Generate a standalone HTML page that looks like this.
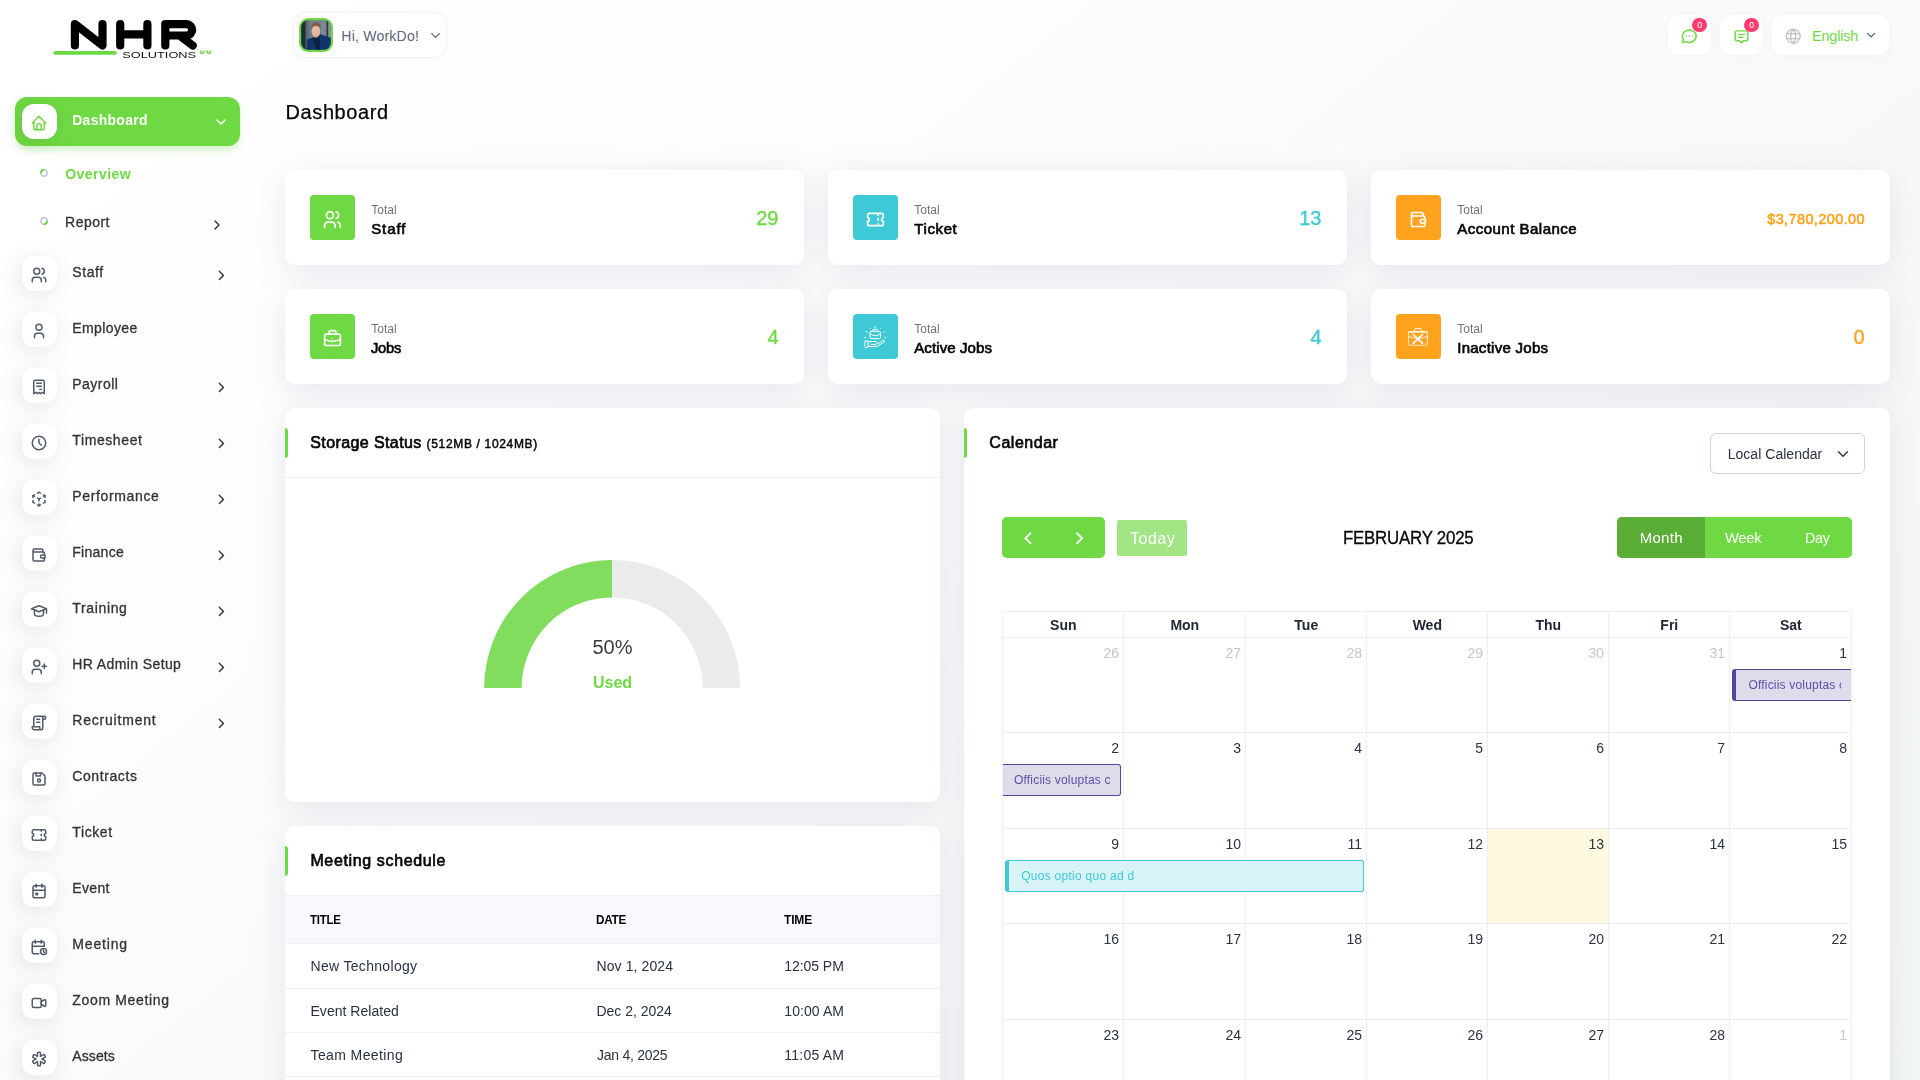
<!DOCTYPE html><html lang="en"><head><meta charset="utf-8"><title>Dashboard</title><style>
*{box-sizing:border-box;margin:0;padding:0}
html,body{width:1920px;height:1080px;overflow:hidden}
body{font-family:"Liberation Sans",sans-serif;position:relative;background:linear-gradient(141.55deg,rgba(240,244,243,0) 3.46%,#f0f4f3 99.86%) 0 0/1920px 1500px no-repeat,#fff;color:#293240}
div,span,svg,nav,header,main,section,table{position:absolute}
.t{white-space:nowrap;display:block}
.ic{overflow:visible}
.card{background:#fff;border-radius:10px;box-shadow:0 6px 30px rgba(182,186,203,.3)}
.mic{background:#fff;border-radius:12px;box-shadow:-3px 4px 23px rgba(0,0,0,.1)}
.hbtn{background:#fff;border-radius:12px;box-shadow:0 1px 5px rgba(182,186,203,.10)}
.bar{background:#6fd943;border-radius:0 3px 3px 0}
.hl{background:#f1f1f1;height:1px}
.gl{background:#efeff1}
</style></head><body>
<nav style="left:0;top:0;width:280px;height:1080px;will-change:transform">
<svg style="left:50px;top:14px" width="170" height="50" viewBox="50 14 170 50"><g fill="none" stroke="#000" stroke-width="8.2" stroke-linecap="round" stroke-linejoin="round"><path d="M74.900 45.500V24.100L102.500 45.500V24.100"/><path d="M120.200 24.100V45.500M147.400 24.100V45.500M120.200 34.400H147.400"/><path d="M165.300 45.500V24.200H186.500a5.650 5.650 0 0 1 0 11.300H165.300M181.500 37L192.700 45.500"/></g><rect x="53.400" y="51" width="63.500" height="3.800" rx="1.900" fill="#6fd943"/><text x="122.300" y="57.600" font-family="Liberation Sans" font-size="9" textLength="73.800" lengthAdjust="spacingAndGlyphs" fill="#111">SOLUTIONS</text><path d="M200.500 50.500v1.200a1.700 1.700 0 0 0 3.400 0v-1.200M207 50.500v1.200a1.700 1.700 0 0 0 3.400 0v-1.200" stroke="#6fd943" stroke-width="1.600" fill="none"/></svg>
<div style="left:15px;top:97px;width:225px;height:49px;background:#6fd943;border-radius:12px;box-shadow:0 5px 7px -1px rgba(111,217,67,.3)"></div>
<div class="mic" style="left:22px;top:104px;width:35px;height:35px;"></div>
<svg class="ic" style="left:30.20px;top:113.70px" width="18" height="18" viewBox="0 0 24 24" fill="none" stroke="#6fd943" stroke-width="2" stroke-linecap="round" stroke-linejoin="round"><path d="M5 12l-2 0l9 -9l9 9l-2 0"/><path d="M5 12v7a2 2 0 0 0 2 2h10a2 2 0 0 0 2 -2v-7"/><path d="M9 21v-6a2 2 0 0 1 2 -2h2a2 2 0 0 1 2 2v6"/></svg>
<span class="t" style="font-size:14px;line-height:14px;font-weight:700;color:#fff;top:113.00px;letter-spacing:0.272px;left:72.20px;">Dashboard</span>
<svg class="ic" style="left:212.60px;top:113.80px" width="16" height="16" viewBox="0 0 24 24" fill="none" stroke="#fff" stroke-width="2.2" stroke-linecap="round" stroke-linejoin="round"><path d="M6 9l6 6l6 -6"/></svg>
<svg class="ic" style="left:38px;top:167px" width="12" height="12" viewBox="-6 -6 12 12"><circle r="3.15" fill="none" stroke="#c9cfdd" stroke-width="2"/><path d="M-3.15 0A3.15 3.15 0 0 1 0 -3.15" transform="rotate(0)" fill="none" stroke="#6fd943" stroke-width="2" stroke-linecap="butt"/></svg>
<span class="t" style="font-size:14px;line-height:14px;font-weight:700;color:#6fd943;top:167.20px;letter-spacing:0.431px;left:65.30px;">Overview</span>
<svg class="ic" style="left:38px;top:215px" width="12" height="12" viewBox="-6 -6 12 12"><circle r="3.15" fill="none" stroke="#c9cfdd" stroke-width="2"/><path d="M-3.15 0A3.15 3.15 0 0 1 0 -3.15" transform="rotate(180)" fill="none" stroke="#6fd943" stroke-width="2" stroke-linecap="butt"/></svg>
<span class="t" style="font-size:14px;line-height:14px;font-weight:400;color:#333;top:215.00px;letter-spacing:0.457px;-webkit-text-stroke:0.3px #333;left:65.10px;">Report</span>
<svg class="ic" style="left:208.90px;top:217.30px" width="16" height="16" viewBox="0 0 24 24" fill="none" stroke="#333" stroke-width="2" stroke-linecap="round" stroke-linejoin="round"><path d="M9 6l6 6l-6 6"/></svg>
<div class="mic" style="left:22px;top:256.0px;width:35px;height:35px;"></div>
<svg class="ic" style="left:30.20px;top:266.00px" width="18" height="18" viewBox="0 0 24 24" fill="none" stroke="#525b69" stroke-width="2" stroke-linecap="round" stroke-linejoin="round"><path d="M9 7m-4 0a4 4 0 1 0 8 0a4 4 0 1 0 -8 0"/><path d="M3 21v-2a4 4 0 0 1 4 -4h4a4 4 0 0 1 4 4v2"/><path d="M16 3.13a4 4 0 0 1 0 7.75"/><path d="M21 21v-2a4 4 0 0 0 -3 -3.85"/></svg>
<span class="t" style="font-size:14px;line-height:14px;font-weight:400;color:#333;top:265.00px;letter-spacing:0.581px;-webkit-text-stroke:0.3px #333;left:72.30px;">Staff</span>
<svg class="ic" style="left:213.40px;top:266.50px" width="16.8" height="16.8" viewBox="0 0 24 24" fill="none" stroke="#333" stroke-width="2" stroke-linecap="round" stroke-linejoin="round"><path d="M9 6l6 6l-6 6"/></svg>
<div class="mic" style="left:22px;top:312.0px;width:35px;height:35px;"></div>
<svg class="ic" style="left:30.20px;top:322.00px" width="18" height="18" viewBox="0 0 24 24" fill="none" stroke="#525b69" stroke-width="2" stroke-linecap="round" stroke-linejoin="round"><path d="M8 7a4 4 0 1 0 8 0a4 4 0 0 0 -8 0"/><path d="M6 21v-2a4 4 0 0 1 4 -4h4a4 4 0 0 1 4 4v2"/></svg>
<span class="t" style="font-size:14px;line-height:14px;font-weight:400;color:#333;top:321.00px;letter-spacing:0.392px;-webkit-text-stroke:0.3px #333;left:72.30px;">Employee</span>
<div class="mic" style="left:22px;top:368.0px;width:35px;height:35px;"></div>
<svg class="ic" style="left:30.20px;top:378.00px" width="18" height="18" viewBox="0 0 24 24" fill="none" stroke="#525b69" stroke-width="2" stroke-linecap="round" stroke-linejoin="round"><path d="M5 21v-16a2 2 0 0 1 2 -2h10a2 2 0 0 1 2 2v16l-3 -2l-2 2l-2 -2l-2 2l-2 -2l-3 2m4 -14h6m-6 4h6m-2 4h2"/></svg>
<span class="t" style="font-size:14px;line-height:14px;font-weight:400;color:#333;top:377.00px;letter-spacing:0.467px;-webkit-text-stroke:0.3px #333;left:72.30px;">Payroll</span>
<svg class="ic" style="left:213.40px;top:378.50px" width="16.8" height="16.8" viewBox="0 0 24 24" fill="none" stroke="#333" stroke-width="2" stroke-linecap="round" stroke-linejoin="round"><path d="M9 6l6 6l-6 6"/></svg>
<div class="mic" style="left:22px;top:424.0px;width:35px;height:35px;"></div>
<svg class="ic" style="left:30.20px;top:434.00px" width="18" height="18" viewBox="0 0 24 24" fill="none" stroke="#525b69" stroke-width="2" stroke-linecap="round" stroke-linejoin="round"><path d="M3 12a9 9 0 1 0 18 0a9 9 0 0 0 -18 0"/><path d="M12 7v5l3 3"/></svg>
<span class="t" style="font-size:14px;line-height:14px;font-weight:400;color:#333;top:433.00px;letter-spacing:0.596px;-webkit-text-stroke:0.3px #333;left:72.30px;">Timesheet</span>
<svg class="ic" style="left:213.40px;top:434.50px" width="16.8" height="16.8" viewBox="0 0 24 24" fill="none" stroke="#333" stroke-width="2" stroke-linecap="round" stroke-linejoin="round"><path d="M9 6l6 6l-6 6"/></svg>
<div class="mic" style="left:22px;top:480.0px;width:35px;height:35px;"></div>
<svg class="ic" style="left:30.20px;top:490.00px" width="18" height="18" viewBox="0 0 24 24" fill="none" stroke="#525b69" stroke-width="2" stroke-linecap="round" stroke-linejoin="round"><path d="M6 17.6l-2 -1.1v-2.5"/><path d="M4 10v-2.5l2 -1.1"/><path d="M10 4.1l2 -1.1l2 1.1"/><path d="M18 6.4l2 1.1v2.5"/><path d="M20 14v2.5l-2 1.12"/><path d="M14 19.9l-2 1.1l-2 -1.1"/><path d="M12 12l2 -1.1"/><path d="M18 8.6l2 -1.1"/><path d="M12 12l0 2.5"/><path d="M12 18.5l0 2.5"/><path d="M12 12l-2 -1.12"/><path d="M6 8.6l-2 -1.1"/></svg>
<span class="t" style="font-size:14px;line-height:14px;font-weight:400;color:#333;top:489.00px;letter-spacing:0.645px;-webkit-text-stroke:0.3px #333;left:72.30px;">Performance</span>
<svg class="ic" style="left:213.40px;top:490.50px" width="16.8" height="16.8" viewBox="0 0 24 24" fill="none" stroke="#333" stroke-width="2" stroke-linecap="round" stroke-linejoin="round"><path d="M9 6l6 6l-6 6"/></svg>
<div class="mic" style="left:22px;top:536.0px;width:35px;height:35px;"></div>
<svg class="ic" style="left:30.20px;top:546.00px" width="18" height="18" viewBox="0 0 24 24" fill="none" stroke="#525b69" stroke-width="2" stroke-linecap="round" stroke-linejoin="round"><path d="M17 8v-3a1 1 0 0 0 -1 -1h-10a2 2 0 0 0 0 4h12a1 1 0 0 1 1 1v3m0 4v3a1 1 0 0 1 -1 1h-12a2 2 0 0 1 -2 -2v-12"/><path d="M20 12v4h-4a2 2 0 0 1 0 -4h4"/></svg>
<span class="t" style="font-size:14px;line-height:14px;font-weight:400;color:#333;top:545.00px;letter-spacing:0.265px;-webkit-text-stroke:0.3px #333;left:72.30px;">Finance</span>
<svg class="ic" style="left:213.40px;top:546.50px" width="16.8" height="16.8" viewBox="0 0 24 24" fill="none" stroke="#333" stroke-width="2" stroke-linecap="round" stroke-linejoin="round"><path d="M9 6l6 6l-6 6"/></svg>
<div class="mic" style="left:22px;top:592.0px;width:35px;height:35px;"></div>
<svg class="ic" style="left:30.20px;top:602.00px" width="18" height="18" viewBox="0 0 24 24" fill="none" stroke="#525b69" stroke-width="2" stroke-linecap="round" stroke-linejoin="round"><path d="M22 9l-10 -4l-10 4l10 4l10 -4v6"/><path d="M6 10.6v5.4a6 3 0 0 0 12 0v-5.4"/></svg>
<span class="t" style="font-size:14px;line-height:14px;font-weight:400;color:#333;top:601.00px;letter-spacing:0.648px;-webkit-text-stroke:0.3px #333;left:72.30px;">Training</span>
<svg class="ic" style="left:213.40px;top:602.50px" width="16.8" height="16.8" viewBox="0 0 24 24" fill="none" stroke="#333" stroke-width="2" stroke-linecap="round" stroke-linejoin="round"><path d="M9 6l6 6l-6 6"/></svg>
<div class="mic" style="left:22px;top:648.0px;width:35px;height:35px;"></div>
<svg class="ic" style="left:30.20px;top:658.00px" width="18" height="18" viewBox="0 0 24 24" fill="none" stroke="#525b69" stroke-width="2" stroke-linecap="round" stroke-linejoin="round"><path d="M9 7m-4 0a4 4 0 1 0 8 0a4 4 0 1 0 -8 0"/><path d="M3 21v-2a4 4 0 0 1 4 -4h4a4 4 0 0 1 4 4v2"/><path d="M16 11h6m-3 -3v6"/></svg>
<span class="t" style="font-size:14px;line-height:14px;font-weight:400;color:#333;top:657.00px;letter-spacing:0.392px;-webkit-text-stroke:0.3px #333;left:72.30px;">HR Admin Setup</span>
<svg class="ic" style="left:213.40px;top:658.50px" width="16.8" height="16.8" viewBox="0 0 24 24" fill="none" stroke="#333" stroke-width="2" stroke-linecap="round" stroke-linejoin="round"><path d="M9 6l6 6l-6 6"/></svg>
<div class="mic" style="left:22px;top:704.0px;width:35px;height:35px;"></div>
<svg class="ic" style="left:30.20px;top:714.00px" width="18" height="18" viewBox="0 0 24 24" fill="none" stroke="#525b69" stroke-width="2" stroke-linecap="round" stroke-linejoin="round"><path d="M15 21h-9a3 3 0 0 1 -3 -3v-1h10v2a2 2 0 0 0 4 0v-14a2 2 0 1 1 2 2h-2m2 -4h-11a3 3 0 0 0 -3 3v11"/><path d="M9 7l4 0"/><path d="M9 11l4 0"/></svg>
<span class="t" style="font-size:14px;line-height:14px;font-weight:400;color:#333;top:713.00px;letter-spacing:0.793px;-webkit-text-stroke:0.3px #333;left:72.30px;">Recruitment</span>
<svg class="ic" style="left:213.40px;top:714.50px" width="16.8" height="16.8" viewBox="0 0 24 24" fill="none" stroke="#333" stroke-width="2" stroke-linecap="round" stroke-linejoin="round"><path d="M9 6l6 6l-6 6"/></svg>
<div class="mic" style="left:22px;top:760.0px;width:35px;height:35px;"></div>
<svg class="ic" style="left:30.20px;top:770.00px" width="18" height="18" viewBox="0 0 24 24" fill="none" stroke="#525b69" stroke-width="2" stroke-linecap="round" stroke-linejoin="round"><path d="M6 4h10l4 4v10a2 2 0 0 1 -2 2h-12a2 2 0 0 1 -2 -2v-12a2 2 0 0 1 2 -2"/><path d="M12 14m-2 0a2 2 0 1 0 4 0a2 2 0 1 0 -4 0"/><path d="M14 4l0 4l-6 0l0 -4"/></svg>
<span class="t" style="font-size:14px;line-height:14px;font-weight:400;color:#333;top:769.00px;letter-spacing:0.587px;-webkit-text-stroke:0.3px #333;left:72.30px;">Contracts</span>
<div class="mic" style="left:22px;top:816.0px;width:35px;height:35px;"></div>
<svg class="ic" style="left:30.20px;top:826.00px" width="18" height="18" viewBox="0 0 24 24" fill="none" stroke="#525b69" stroke-width="2" stroke-linecap="round" stroke-linejoin="round"><path d="M15 5l0 2"/><path d="M15 11l0 2"/><path d="M15 17l0 2"/><path d="M5 5h14a2 2 0 0 1 2 2v3a2 2 0 0 0 0 4v3a2 2 0 0 1 -2 2h-14a2 2 0 0 1 -2 -2v-3a2 2 0 0 0 0 -4v-3a2 2 0 0 1 2 -2"/></svg>
<span class="t" style="font-size:14px;line-height:14px;font-weight:400;color:#333;top:825.00px;letter-spacing:0.596px;-webkit-text-stroke:0.3px #333;left:72.30px;">Ticket</span>
<div class="mic" style="left:22px;top:872.0px;width:35px;height:35px;"></div>
<svg class="ic" style="left:30.20px;top:882.00px" width="18" height="18" viewBox="0 0 24 24" fill="none" stroke="#525b69" stroke-width="2" stroke-linecap="round" stroke-linejoin="round"><path d="M4 5m0 2a2 2 0 0 1 2 -2h12a2 2 0 0 1 2 2v12a2 2 0 0 1 -2 2h-12a2 2 0 0 1 -2 -2z"/><path d="M16 3l0 4"/><path d="M8 3l0 4"/><path d="M4 11l16 0"/><path d="M8 15h2v2h-2z"/></svg>
<span class="t" style="font-size:14px;line-height:14px;font-weight:400;color:#333;top:881.00px;letter-spacing:0.351px;-webkit-text-stroke:0.3px #333;left:72.30px;">Event</span>
<div class="mic" style="left:22px;top:928.0px;width:35px;height:35px;"></div>
<svg class="ic" style="left:30.20px;top:938.00px" width="18" height="18" viewBox="0 0 24 24" fill="none" stroke="#525b69" stroke-width="2" stroke-linecap="round" stroke-linejoin="round"><path d="M11.795 21h-6.795a2 2 0 0 1 -2 -2v-12a2 2 0 0 1 2 -2h12a2 2 0 0 1 2 2v4"/><path d="M18 18m-4 0a4 4 0 1 0 8 0a4 4 0 1 0 -8 0"/><path d="M15 3v4"/><path d="M7 3v4"/><path d="M3 11h16"/><path d="M18 16.496v1.504l1 1"/></svg>
<span class="t" style="font-size:14px;line-height:14px;font-weight:400;color:#333;top:937.00px;letter-spacing:0.831px;-webkit-text-stroke:0.3px #333;left:72.30px;">Meeting</span>
<div class="mic" style="left:22px;top:984.0px;width:35px;height:35px;"></div>
<svg class="ic" style="left:30.20px;top:994.00px" width="18" height="18" viewBox="0 0 24 24" fill="none" stroke="#525b69" stroke-width="2" stroke-linecap="round" stroke-linejoin="round"><path d="M15 10l4.553 -2.276a1 1 0 0 1 1.447 .894v6.764a1 1 0 0 1 -1.447 .894l-4.553 -2.276v-4z"/><path d="M3 6m0 2a2 2 0 0 1 2 -2h8a2 2 0 0 1 2 2v8a2 2 0 0 1 -2 2h-8a2 2 0 0 1 -2 -2z"/></svg>
<span class="t" style="font-size:14px;line-height:14px;font-weight:400;color:#333;top:993.00px;letter-spacing:0.665px;-webkit-text-stroke:0.3px #333;left:72.30px;">Zoom Meeting</span>
<div class="mic" style="left:22px;top:1040.0px;width:35px;height:35px;"></div>
<svg class="ic" style="left:30.20px;top:1050.00px" width="18" height="18" viewBox="0 0 24 24" fill="none" stroke="#525b69" stroke-width="2" stroke-linecap="round" stroke-linejoin="round"><path d="M13 3a1 1 0 0 1 1 1v4.535l3.928 -2.267a1 1 0 0 1 1.366 .366l1 1.732a1 1 0 0 1 -.366 1.366l-3.927 2.268l3.927 2.269a1 1 0 0 1 .366 1.366l-1 1.732a1 1 0 0 1 -1.366 .366l-3.928 -2.269v4.536a1 1 0 0 1 -1 1h-2a1 1 0 0 1 -1 -1v-4.536l-3.928 2.268a1 1 0 0 1 -1.366 -.366l-1 -1.732a1 1 0 0 1 .366 -1.366l3.927 -2.268l-3.927 -2.268a1 1 0 0 1 -.366 -1.366l1 -1.732a1 1 0 0 1 1.366 -.366l3.928 2.267v-4.535a1 1 0 0 1 1 -1h2z"/></svg>
<span class="t" style="font-size:14px;line-height:14px;font-weight:400;color:#333;top:1049.00px;letter-spacing:0.097px;-webkit-text-stroke:0.3px #333;left:72.30px;">Assets</span>
</nav>
<header style="left:280px;top:0;width:1640px;height:70px">
<div class="hbtn" style="left:13.300000000000011px;top:12px;width:154.2px;height:45.5px;border:1px solid #f1f2f4"></div>
<svg style="left:19px;top:18px" width="34" height="34" viewBox="0 0 34 34"><defs><clipPath id="av"><rect x="2.200" y="2.200" width="29.600" height="29.600" rx="7"/></clipPath></defs><rect width="34" height="34" rx="9.500" fill="#6fd943"/><g clip-path="url(#av)"><rect width="34" height="34" fill="#6d7c86"/><rect x="2" y="2" width="4.800" height="30" fill="#1f2d36"/><rect x="6.800" y="2" width="3" height="30" fill="#5a6973"/><rect x="21.800" y="2" width="5.700" height="30" fill="#7b8992"/><rect x="27.500" y="2" width="1.900" height="30" fill="#2b3a42"/><rect x="29.400" y="2" width="3" height="30" fill="#8d93a0"/><path d="M7.500 32L8 21.400L14.300 19.200L17 22L21.400 16.200L32 19.800V32z" fill="#10356b"/><path d="M13.500 20L17 32h4L21 17.500z" fill="#0a2246"/><ellipse cx="16.900" cy="13.200" rx="4.300" ry="5.900" fill="#e2b8a3"/><path d="M13.300 16.500q3.600 5.500 7.200 0q-1 3.500-3.600 3.500t-3.600-3.500z" fill="#a9785f"/><path d="M12.300 11c-.5-4.500 2-6.300 4.800-6.300s5 1.700 4.600 5.800c-1-2-2.600-2.800-4.700-2.800s-3.700 1-4.700 3.300z" fill="#7d5c45"/></g></svg>
<span class="t" style="font-size:14px;line-height:14px;font-weight:400;color:#5b6576;top:28.80px;letter-spacing:0.231px;left:61.30px;">Hi, WorkDo!</span>
<svg class="ic" style="left:147.80px;top:28.40px" width="15" height="15" viewBox="0 0 24 24" fill="none" stroke="#5b6576" stroke-width="2" stroke-linecap="round" stroke-linejoin="round"><path d="M6 9l6 6l6 -6"/></svg>
<div class="hbtn" style="left:1388px;top:14.6px;width:43px;height:40.6px;"></div>
<svg class="ic" style="left:1400.05px;top:26.55px" width="18.5" height="18.5" viewBox="0 0 24 24" fill="none" stroke="#6fd943" stroke-width="1.9" stroke-linecap="round" stroke-linejoin="round"><path d="M3 20l1.3 -3.9a9 8 0 1 1 3.4 2.9l-4.7 1"/><path d="M12 12l0 .01"/><path d="M8 12l0 .01"/><path d="M16 12l0 .01"/></svg>
<div style="left:1412.3px;top:17.6px;width:14.6px;height:14.6px;background:#ff3a6e;border-radius:50%"></div>
<span class="t" style="font-size:9px;line-height:9px;font-weight:400;color:#fff;top:20.70px;left:1417.20px;">0</span>
<div class="hbtn" style="left:1440px;top:14.6px;width:43px;height:40.6px;"></div>
<svg class="ic" style="left:1452.90px;top:27.70px" width="17" height="17" viewBox="0 0 24 24" fill="none" stroke="#6fd943" stroke-width="2" stroke-linecap="round" stroke-linejoin="round"><path d="M8 9h8"/><path d="M8 13h6"/><path d="M9 18h-3a3 3 0 0 1 -3 -3v-8a3 3 0 0 1 3 -3h12a3 3 0 0 1 3 3v8a3 3 0 0 1 -3 3h-3l-3 3l-3 -3z"/></svg>
<div style="left:1464.3px;top:17.6px;width:14.6px;height:14.6px;background:#ff3a6e;border-radius:50%"></div>
<span class="t" style="font-size:9px;line-height:9px;font-weight:400;color:#fff;top:20.70px;left:1469.20px;">0</span>
<div class="hbtn" style="left:1492px;top:14.6px;width:117px;height:40.6px;"></div>
<svg class="ic" style="left:1504.15px;top:26.75px" width="18.5" height="18.5" viewBox="0 0 24 24" fill="none" stroke="#bcc0c9" stroke-width="1.7" stroke-linecap="round" stroke-linejoin="round"><path d="M3 12a9 9 0 1 0 18 0a9 9 0 0 0 -18 0"/><path d="M3.6 9h16.8"/><path d="M3.6 15h16.8"/><path d="M11.5 3a17 17 0 0 0 0 18"/><path d="M12.5 3a17 17 0 0 1 0 18"/></svg>
<span class="t" style="font-size:14.5px;line-height:14.5px;font-weight:400;color:#6fd943;top:28.95px;letter-spacing:-0.210px;left:1532.00px;">English</span>
<svg class="ic" style="left:1583.70px;top:28.30px" width="14.2" height="14.2" viewBox="0 0 24 24" fill="none" stroke="#4b5563" stroke-width="2" stroke-linecap="round" stroke-linejoin="round"><path d="M6 9l6 6l6 -6"/></svg>
</header>
<main style="left:0;top:0;width:1920px;height:1080px">
<span class="t h4" style="font-size:20px;line-height:20px;font-weight:400;color:#060606;top:101.70px;letter-spacing:0.582px;-webkit-text-stroke:0.25px #060606;left:285.60px;">Dashboard</span>
<div class="card" style="left:285px;top:170px;width:519px;height:95px;"></div>
<div style="left:310px;top:195px;width:45px;height:45px;background:#6fd943;border-radius:4px"></div>
<svg class="ic" style="left:322.00px;top:208.70px" width="21" height="21" viewBox="0 0 24 24" fill="none" stroke="#fff" stroke-width="1.9" stroke-linecap="round" stroke-linejoin="round"><path d="M9 7m-4 0a4 4 0 1 0 8 0a4 4 0 1 0 -8 0"/><path d="M3 21v-2a4 4 0 0 1 4 -4h4a4 4 0 0 1 4 4v2"/><path d="M16 3.13a4 4 0 0 1 0 7.75"/><path d="M21 21v-2a4 4 0 0 0 -3 -3.85"/></svg>
<span class="t" style="font-size:12px;line-height:12px;font-weight:400;color:#6c757d;top:204.20px;letter-spacing:0.039px;left:371.20px;">Total</span>
<span class="t" style="font-size:15px;line-height:15px;font-weight:400;color:#060606;top:220.80px;letter-spacing:0.921px;-webkit-text-stroke:0.65px #060606;left:371.20px;">Staff</span>
<span class="t" style="font-size:20px;line-height:20px;font-weight:400;color:#6fd943;top:207.70px;-webkit-text-stroke:0.35px #6fd943;left:756.26px;">29</span>
<div class="card" style="left:828px;top:170px;width:519px;height:95px;"></div>
<div style="left:853px;top:195px;width:45px;height:45px;background:#3ec9d6;border-radius:4px"></div>
<svg class="ic" style="left:865.00px;top:208.70px" width="21" height="21" viewBox="0 0 24 24" fill="none" stroke="#fff" stroke-width="1.9" stroke-linecap="round" stroke-linejoin="round"><path d="M15 5l0 2"/><path d="M15 11l0 2"/><path d="M15 17l0 2"/><path d="M5 5h14a2 2 0 0 1 2 2v3a2 2 0 0 0 0 4v3a2 2 0 0 1 -2 2h-14a2 2 0 0 1 -2 -2v-3a2 2 0 0 0 0 -4v-3a2 2 0 0 1 2 -2"/></svg>
<span class="t" style="font-size:12px;line-height:12px;font-weight:400;color:#6c757d;top:204.20px;letter-spacing:0.039px;left:914.20px;">Total</span>
<span class="t" style="font-size:15px;line-height:15px;font-weight:400;color:#060606;top:220.80px;letter-spacing:0.630px;-webkit-text-stroke:0.65px #060606;left:914.20px;">Ticket</span>
<span class="t" style="font-size:20px;line-height:20px;font-weight:400;color:#3ec9d6;top:207.70px;-webkit-text-stroke:0.35px #3ec9d6;left:1299.26px;">13</span>
<div class="card" style="left:1371px;top:170px;width:519px;height:95px;"></div>
<div style="left:1396px;top:195px;width:45px;height:45px;background:#ffa21d;border-radius:4px"></div>
<svg class="ic" style="left:1408.00px;top:208.70px" width="21" height="21" viewBox="0 0 24 24" fill="none" stroke="#fff" stroke-width="1.9" stroke-linecap="round" stroke-linejoin="round"><path d="M17 8v-3a1 1 0 0 0 -1 -1h-10a2 2 0 0 0 0 4h12a1 1 0 0 1 1 1v3m0 4v3a1 1 0 0 1 -1 1h-12a2 2 0 0 1 -2 -2v-12"/><path d="M20 12v4h-4a2 2 0 0 1 0 -4h4"/></svg>
<span class="t" style="font-size:12px;line-height:12px;font-weight:400;color:#6c757d;top:204.20px;letter-spacing:0.039px;left:1457.20px;">Total</span>
<span class="t" style="font-size:15px;line-height:15px;font-weight:400;color:#060606;top:220.80px;letter-spacing:0.495px;-webkit-text-stroke:0.65px #060606;left:1457.20px;">Account Balance</span>
<span class="t" style="font-size:14.5px;line-height:14.5px;font-weight:400;color:#ffa21d;top:211.75px;letter-spacing:0.389px;-webkit-text-stroke:0.55px #ffa21d;left:1767.20px;">$3,780,200.00</span>
<div class="card" style="left:285px;top:289px;width:519px;height:95px;"></div>
<div style="left:310px;top:314px;width:45px;height:45px;background:#6fd943;border-radius:4px"></div>
<svg class="ic" style="left:322.00px;top:327.70px" width="21" height="21" viewBox="0 0 24 24" fill="none" stroke="#fff" stroke-width="1.9" stroke-linecap="round" stroke-linejoin="round"><path d="M3 7m0 2a2 2 0 0 1 2 -2h14a2 2 0 0 1 2 2v9a2 2 0 0 1 -2 2h-14a2 2 0 0 1 -2 -2z"/><path d="M8 7v-2a2 2 0 0 1 2 -2h4a2 2 0 0 1 2 2v2"/><path d="M12 12l0 .01"/><path d="M3 13a20 20 0 0 0 18 0"/></svg>
<span class="t" style="font-size:12px;line-height:12px;font-weight:400;color:#6c757d;top:323.20px;letter-spacing:0.039px;left:371.20px;">Total</span>
<span class="t" style="font-size:15px;line-height:15px;font-weight:400;color:#060606;top:339.80px;letter-spacing:-0.250px;-webkit-text-stroke:0.65px #060606;left:371.20px;transform:scaleX(0.9764);transform-origin:0 50%;">Jobs</span>
<span class="t" style="font-size:20px;line-height:20px;font-weight:400;color:#6fd943;top:326.70px;-webkit-text-stroke:0.35px #6fd943;left:767.38px;">4</span>
<div class="card" style="left:828px;top:289px;width:519px;height:95px;"></div>
<div style="left:853px;top:314px;width:45px;height:45px;background:#3ec9d6;border-radius:4px"></div>
<svg class="ic" style="left:864.00px;top:326.00px" width="22" height="22" viewBox="0 0 22 22" fill="none" stroke="#fff" stroke-width="1" stroke-linecap="round" stroke-linejoin="round"><rect x="5.900" y="5.400" width="10.600" height="7.200" rx="1"/><path d="M8.800 5.400v-.8a1.200 1.200 0 0 1 1.200-1.200h2.400a1.200 1.200 0 0 1 1.200 1.200v.8"/><path d="M6.300 7.900q4.900 3.800 9.800 0"/><path d="M11.200 .4v1.400M6.100 2.300h.01M16.300 2.300h.01M2.100 5.300l.6 1M20.300 5.300l-.6 1M.6 11.400h.9M20.900 11.400h.9"/><rect x=".9" y="14.800" width="3.200" height="6.700" rx=".6"/><path d="M4.100 15.500h6.900c1.200 0 1.800.8 2.400 1.500l1 .5l4.600-3.200c1.200-.7 2.200.5 1.300 1.500l-6.600 4.400c-.8.500-1.800.5-2.800.4l-6.800-.4"/><path d="M7.600 18.400h4.100c1 0 1.700-.5 1.700-1.400"/></svg>
<span class="t" style="font-size:12px;line-height:12px;font-weight:400;color:#6c757d;top:323.20px;letter-spacing:0.039px;left:914.20px;">Total</span>
<span class="t" style="font-size:15px;line-height:15px;font-weight:400;color:#060606;top:339.80px;letter-spacing:0.111px;-webkit-text-stroke:0.65px #060606;left:914.20px;">Active Jobs</span>
<span class="t" style="font-size:20px;line-height:20px;font-weight:400;color:#3ec9d6;top:326.70px;-webkit-text-stroke:0.35px #3ec9d6;left:1310.38px;">4</span>
<div class="card" style="left:1371px;top:289px;width:519px;height:95px;"></div>
<div style="left:1396px;top:314px;width:45px;height:45px;background:#ffa21d;border-radius:4px"></div>
<svg class="ic" style="left:1408.00px;top:328.00px" width="20" height="18" viewBox="0 0 20 18" fill="none" stroke="#fff" stroke-width="1" stroke-linecap="round" stroke-linejoin="round"><path d="M6.300 3.200v-1.200a1.500 1.500 0 0 1 1.500-1.500h4.400a1.500 1.500 0 0 1 1.500 1.500v1.200" stroke-width="1" opacity=".85"/><rect x=".6" y="3.500" width="18.800" height="13.800" rx="1.600" stroke-width="1.100" opacity=".72"/><path d="M.9 4.100h18.200" stroke-width="1.500" opacity=".75"/><path d="M.6 8.600q9.400 3.600 18.800 0" stroke-width="1" opacity=".85"/><path d="M5.300 6.500l9.200 8.800M14.500 6.500l-9.200 8.800" stroke-width="1.700"/></svg>
<span class="t" style="font-size:12px;line-height:12px;font-weight:400;color:#6c757d;top:323.20px;letter-spacing:0.039px;left:1457.20px;">Total</span>
<span class="t" style="font-size:15px;line-height:15px;font-weight:400;color:#060606;top:339.80px;letter-spacing:0.272px;-webkit-text-stroke:0.65px #060606;left:1457.20px;">Inactive Jobs</span>
<span class="t" style="font-size:20px;line-height:20px;font-weight:400;color:#ffa21d;top:326.70px;-webkit-text-stroke:0.35px #ffa21d;left:1853.38px;">0</span>
<div class="card" style="left:285px;top:408px;width:655px;height:394px;"></div>
<div class="bar" style="left:285px;top:428px;width:3px;height:30px;"></div>
<span class="t" style="font-size:16px;line-height:16px;font-weight:400;color:#060606;top:434.80px;letter-spacing:0.397px;-webkit-text-stroke:0.65px #060606;left:310.30px;">Storage Status</span>
<span class="t" style="font-size:12px;line-height:12px;font-weight:400;color:#060606;top:438.00px;letter-spacing:0.659px;-webkit-text-stroke:0.45px #060606;left:426.60px;">(512MB / 1024MB)</span>
<div class="hl" style="left:285px;top:477px;width:655px;height:1px;"></div>
<svg style="left:472px;top:548px" width="280" height="150" viewBox="472 548 280 150"><path d="M502.900 688A109.250 109.250 0 0 1 612.150 578.750" fill="none" stroke="#82dd5e" stroke-width="37.5"/><path d="M612.150 578.750A109.250 109.250 0 0 1 721.400 688" fill="none" stroke="#ebebeb" stroke-width="37.5"/></svg>
<span class="t" style="font-size:20px;line-height:20px;font-weight:400;color:#373d3f;top:636.80px;left:592.49px;">50%</span>
<span class="t" style="font-size:16px;line-height:16px;font-weight:700;color:#6fd943;top:675.40px;left:592.94px;">Used</span>
<div class="card" style="left:285px;top:826px;width:655px;height:300px;overflow:hidden"></div>
<div class="bar" style="left:285px;top:846px;width:3px;height:30px;"></div>
<span class="t" style="font-size:16px;line-height:16px;font-weight:400;color:#060606;top:852.90px;letter-spacing:0.639px;-webkit-text-stroke:0.65px #060606;left:310.40px;">Meeting schedule</span>
<div class="hl" style="left:285px;top:895px;width:655px;height:1px;"></div>
<div style="left:285px;top:896px;width:655px;height:47px;background:#f8f9fd"></div>
<div class="hl" style="left:285px;top:943px;width:655px;height:1px;"></div>
<span class="t" style="font-size:12px;line-height:12px;font-weight:700;color:#060606;top:913.90px;letter-spacing:-0.250px;left:310.40px;transform:scaleX(0.9529);transform-origin:0 50%;">TITLE</span>
<span class="t" style="font-size:12px;line-height:12px;font-weight:700;color:#060606;top:913.90px;letter-spacing:-0.250px;left:596.30px;transform:scaleX(0.9766);transform-origin:0 50%;">DATE</span>
<span class="t" style="font-size:12px;line-height:12px;font-weight:700;color:#060606;top:913.90px;letter-spacing:-0.156px;left:784.00px;">TIME</span>
<span class="t" style="font-size:14px;line-height:14px;font-weight:400;color:#293240;top:958.90px;letter-spacing:0.318px;left:310.50px;">New Technology</span>
<span class="t" style="font-size:14px;line-height:14px;font-weight:400;color:#293240;top:958.90px;letter-spacing:0.100px;left:596.50px;">Nov 1, 2024</span>
<span class="t" style="font-size:14px;line-height:14px;font-weight:400;color:#293240;top:958.90px;letter-spacing:-0.060px;left:784.30px;">12:05 PM</span>
<span class="t" style="font-size:14px;line-height:14px;font-weight:400;color:#293240;top:1003.60px;letter-spacing:0.029px;left:310.50px;">Event Related</span>
<span class="t" style="font-size:14px;line-height:14px;font-weight:400;color:#293240;top:1003.60px;letter-spacing:-0.020px;left:596.50px;">Dec 2, 2024</span>
<span class="t" style="font-size:14px;line-height:14px;font-weight:400;color:#293240;top:1003.60px;letter-spacing:0.079px;left:784.30px;">10:00 AM</span>
<span class="t" style="font-size:14px;line-height:14px;font-weight:400;color:#293240;top:1047.80px;letter-spacing:0.397px;left:310.50px;">Team Meeting</span>
<span class="t" style="font-size:14px;line-height:14px;font-weight:400;color:#293240;top:1047.80px;letter-spacing:-0.250px;left:596.50px;transform:scaleX(0.9975);transform-origin:0 50%;">Jan 4, 2025</span>
<span class="t" style="font-size:14px;line-height:14px;font-weight:400;color:#293240;top:1047.80px;letter-spacing:0.227px;left:784.30px;">11:05 AM</span>
<div class="hl" style="left:285px;top:988px;width:655px;height:1px;"></div>
<div class="hl" style="left:285px;top:1032px;width:655px;height:1px;"></div>
<div class="hl" style="left:285px;top:1076px;width:655px;height:1px;"></div>
<div class="card" style="left:964px;top:408px;width:926px;height:700px;"></div>
<div class="bar" style="left:964px;top:428px;width:3px;height:30px;"></div>
<span class="t" style="font-size:16px;line-height:16px;font-weight:400;color:#060606;top:434.80px;letter-spacing:0.525px;-webkit-text-stroke:0.65px #060606;left:989.30px;">Calendar</span>
<div style="left:1710px;top:433px;width:155px;height:41px;border:1px solid #ced4da;border-radius:6px;background:#fff"></div>
<span class="t" style="font-size:14px;line-height:14px;font-weight:400;color:#293240;top:446.80px;letter-spacing:0.032px;left:1727.70px;">Local Calendar</span>
<svg class="ic" style="left:1833.90px;top:444.90px" width="18" height="18" viewBox="0 0 24 24" fill="none" stroke="#343a40" stroke-width="2" stroke-linecap="round" stroke-linejoin="round"><path d="M6 9l6 6l6 -6"/></svg>
<div style="left:1002px;top:517.2px;width:103px;height:40.6px;background:#6fd943;border-radius:5px"></div>
<svg class="ic" style="left:1016.85px;top:526.55px" width="22.5" height="22.5" viewBox="0 0 24 24" fill="none" stroke="#fff" stroke-width="2.05" stroke-linecap="butt" stroke-linejoin="miter"><path d="M15 6l-6 6l6 6"/></svg>
<svg class="ic" style="left:1068.25px;top:526.55px" width="22.5" height="22.5" viewBox="0 0 24 24" fill="none" stroke="#fff" stroke-width="2.05" stroke-linecap="butt" stroke-linejoin="miter"><path d="M9 6l6 6l-6 6"/></svg>
<div style="left:1117px;top:520px;width:70px;height:35.8px;background:#a1e585;border-radius:2px"></div>
<span class="t" style="font-size:16px;line-height:16px;font-weight:400;color:#fff;top:531.20px;letter-spacing:0.578px;left:1129.90px;">Today</span>
<span class="t" style="font-size:18px;line-height:18px;font-weight:400;color:#060606;top:528.80px;letter-spacing:-0.250px;-webkit-text-stroke:0.3px #060606;left:1343.00px;transform:scaleX(0.9375);transform-origin:0 50%;">FEBRUARY 2025</span>
<div style="left:1617px;top:517.2px;width:235px;height:40.6px;background:#6fd943;border-radius:5px;overflow:hidden"><div style="left:0px;top:0px;width:87.5px;height:40.6px;background:#5aae36"></div></div>
<span class="t" style="font-size:15px;line-height:15px;font-weight:400;color:#fff;top:530.20px;letter-spacing:0.279px;left:1639.70px;">Month</span>
<span class="t" style="font-size:15px;line-height:15px;font-weight:400;color:#fff;top:530.20px;letter-spacing:-0.250px;left:1725.40px;transform:scaleX(0.9799);transform-origin:0 50%;">Week</span>
<span class="t" style="font-size:15px;line-height:15px;font-weight:400;color:#fff;top:530.20px;letter-spacing:-0.250px;left:1805.40px;transform:scaleX(0.9476);transform-origin:0 50%;">Day</span>
<div style="left:1488px;top:829px;width:120px;height:94px;background:#fffadf"></div>
<div class="gl" style="left:1002px;top:611px;width:1px;height:480px;"></div>
<div class="gl" style="left:1123px;top:611px;width:1px;height:480px;"></div>
<div class="gl" style="left:1245px;top:611px;width:1px;height:480px;"></div>
<div class="gl" style="left:1366px;top:611px;width:1px;height:480px;"></div>
<div class="gl" style="left:1487px;top:611px;width:1px;height:480px;"></div>
<div class="gl" style="left:1608px;top:611px;width:1px;height:480px;"></div>
<div class="gl" style="left:1729px;top:611px;width:1px;height:480px;"></div>
<div class="gl" style="left:1851px;top:611px;width:1px;height:480px;"></div>
<div class="gl" style="left:1002px;top:611px;width:850px;height:1px;"></div>
<div class="gl" style="left:1002px;top:637px;width:850px;height:1px;"></div>
<div class="gl" style="left:1002px;top:732px;width:850px;height:1px;"></div>
<div class="gl" style="left:1002px;top:828px;width:850px;height:1px;"></div>
<div class="gl" style="left:1002px;top:923px;width:850px;height:1px;"></div>
<div class="gl" style="left:1002px;top:1019px;width:850px;height:1px;"></div>
<span class="t" style="font-size:14px;line-height:14px;font-weight:700;color:#212735;top:618.00px;left:1050.08px;">Sun</span>
<span class="t" style="font-size:14px;line-height:14px;font-weight:700;color:#212735;top:618.00px;left:1170.41px;">Mon</span>
<span class="t" style="font-size:14px;line-height:14px;font-weight:700;color:#212735;top:618.00px;left:1294.37px;">Tue</span>
<span class="t" style="font-size:14px;line-height:14px;font-weight:700;color:#212735;top:618.00px;left:1412.65px;">Wed</span>
<span class="t" style="font-size:14px;line-height:14px;font-weight:700;color:#212735;top:618.00px;left:1535.47px;">Thu</span>
<span class="t" style="font-size:14px;line-height:14px;font-weight:700;color:#212735;top:618.00px;left:1660.35px;">Fri</span>
<span class="t" style="font-size:14px;line-height:14px;font-weight:700;color:#212735;top:618.00px;left:1779.91px;">Sat</span>
<span class="t" style="font-size:14px;line-height:14px;font-weight:400;color:#c4c6ca;top:645.90px;left:1103.43px;">26</span>
<span class="t" style="font-size:14px;line-height:14px;font-weight:400;color:#c4c6ca;top:645.90px;left:1225.43px;">27</span>
<span class="t" style="font-size:14px;line-height:14px;font-weight:400;color:#c4c6ca;top:645.90px;left:1346.43px;">28</span>
<span class="t" style="font-size:14px;line-height:14px;font-weight:400;color:#c4c6ca;top:645.90px;left:1467.43px;">29</span>
<span class="t" style="font-size:14px;line-height:14px;font-weight:400;color:#c4c6ca;top:645.90px;left:1588.43px;">30</span>
<span class="t" style="font-size:14px;line-height:14px;font-weight:400;color:#c4c6ca;top:645.90px;left:1709.43px;">31</span>
<span class="t" style="font-size:14px;line-height:14px;font-weight:400;color:#2b3243;top:645.90px;left:1839.21px;">1</span>
<span class="t" style="font-size:14px;line-height:14px;font-weight:400;color:#2b3243;top:740.90px;left:1111.21px;">2</span>
<span class="t" style="font-size:14px;line-height:14px;font-weight:400;color:#2b3243;top:740.90px;left:1233.21px;">3</span>
<span class="t" style="font-size:14px;line-height:14px;font-weight:400;color:#2b3243;top:740.90px;left:1354.21px;">4</span>
<span class="t" style="font-size:14px;line-height:14px;font-weight:400;color:#2b3243;top:740.90px;left:1475.21px;">5</span>
<span class="t" style="font-size:14px;line-height:14px;font-weight:400;color:#2b3243;top:740.90px;left:1596.21px;">6</span>
<span class="t" style="font-size:14px;line-height:14px;font-weight:400;color:#2b3243;top:740.90px;left:1717.21px;">7</span>
<span class="t" style="font-size:14px;line-height:14px;font-weight:400;color:#2b3243;top:740.90px;left:1839.21px;">8</span>
<span class="t" style="font-size:14px;line-height:14px;font-weight:400;color:#2b3243;top:836.90px;left:1111.21px;">9</span>
<span class="t" style="font-size:14px;line-height:14px;font-weight:400;color:#2b3243;top:836.90px;left:1225.43px;">10</span>
<span class="t" style="font-size:14px;line-height:14px;font-weight:400;color:#2b3243;top:836.90px;left:1347.47px;">11</span>
<span class="t" style="font-size:14px;line-height:14px;font-weight:400;color:#2b3243;top:836.90px;left:1467.43px;">12</span>
<span class="t" style="font-size:14px;line-height:14px;font-weight:400;color:#2b3243;top:836.90px;left:1588.43px;">13</span>
<span class="t" style="font-size:14px;line-height:14px;font-weight:400;color:#2b3243;top:836.90px;left:1709.43px;">14</span>
<span class="t" style="font-size:14px;line-height:14px;font-weight:400;color:#2b3243;top:836.90px;left:1831.43px;">15</span>
<span class="t" style="font-size:14px;line-height:14px;font-weight:400;color:#2b3243;top:931.90px;left:1103.43px;">16</span>
<span class="t" style="font-size:14px;line-height:14px;font-weight:400;color:#2b3243;top:931.90px;left:1225.43px;">17</span>
<span class="t" style="font-size:14px;line-height:14px;font-weight:400;color:#2b3243;top:931.90px;left:1346.43px;">18</span>
<span class="t" style="font-size:14px;line-height:14px;font-weight:400;color:#2b3243;top:931.90px;left:1467.43px;">19</span>
<span class="t" style="font-size:14px;line-height:14px;font-weight:400;color:#2b3243;top:931.90px;left:1588.43px;">20</span>
<span class="t" style="font-size:14px;line-height:14px;font-weight:400;color:#2b3243;top:931.90px;left:1709.43px;">21</span>
<span class="t" style="font-size:14px;line-height:14px;font-weight:400;color:#2b3243;top:931.90px;left:1831.43px;">22</span>
<span class="t" style="font-size:14px;line-height:14px;font-weight:400;color:#2b3243;top:1027.90px;left:1103.43px;">23</span>
<span class="t" style="font-size:14px;line-height:14px;font-weight:400;color:#2b3243;top:1027.90px;left:1225.43px;">24</span>
<span class="t" style="font-size:14px;line-height:14px;font-weight:400;color:#2b3243;top:1027.90px;left:1346.43px;">25</span>
<span class="t" style="font-size:14px;line-height:14px;font-weight:400;color:#2b3243;top:1027.90px;left:1467.43px;">26</span>
<span class="t" style="font-size:14px;line-height:14px;font-weight:400;color:#2b3243;top:1027.90px;left:1588.43px;">27</span>
<span class="t" style="font-size:14px;line-height:14px;font-weight:400;color:#2b3243;top:1027.90px;left:1709.43px;">28</span>
<span class="t" style="font-size:14px;line-height:14px;font-weight:400;color:#c4c6ca;top:1027.90px;left:1839.21px;">1</span>
<div style="left:1732.2px;top:668.8px;width:119px;height:32px;background:#dedbeb;border:1px solid #51459d;border-left:4px solid #51459d;border-right:0;border-radius:3px 0 0 3px;overflow:hidden"><div style="left:0px;top:0px;width:105px;height:30px;overflow:hidden"><span class="t" style="font-size:12px;line-height:12px;font-weight:400;color:#5d50a8;top:9.00px;letter-spacing:0.186px;left:12.30px;">Officiis voluptas c</span></div></div>
<div style="left:1003px;top:763.8px;width:118px;height:32px;background:#dedbeb;border:1px solid #51459d;border-left:0;border-radius:0 3px 3px 0;overflow:hidden"><div style="left:0px;top:0px;width:107.3px;height:30px;overflow:hidden"><span class="t" style="font-size:12px;line-height:12px;font-weight:400;color:#5d50a8;top:9.00px;letter-spacing:0.186px;left:11.00px;">Officiis voluptas c</span></div></div>
<div style="left:1005.4px;top:860.2px;width:358.4px;height:31.6px;background:#d9f4f7;border:1px solid #3ec9d6;border-left:4px solid #3ec9d6;border-radius:3px"><span class="t" style="font-size:12px;line-height:12px;font-weight:400;color:#3ec9d6;top:8.60px;letter-spacing:0.273px;left:11.80px;">Quos optio quo ad d</span></div>
</main></body></html>
